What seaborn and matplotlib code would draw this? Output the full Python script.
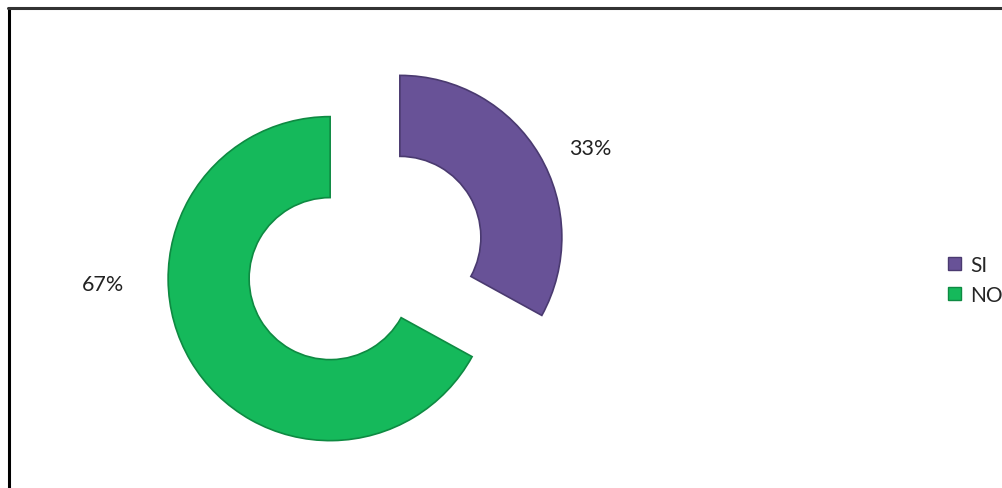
import matplotlib
matplotlib.use("Agg")
import matplotlib.pyplot as plt
import seaborn as sns
from matplotlib.lines import Line2D
from matplotlib.patches import Patch

categories = ["SI", "NO"]
values = [33, 67]
pct_labels = ["33%", "67%"]
colors = ["#685297", "#15B95B"]
edge_colors = ["#4A3A70", "#0E8A42"]

sns.set_theme(style="white")
plt.rcParams['font.family'] = ['Lato', 'DejaVu Sans']

W, H = 1002, 489
fig = plt.figure(figsize=(W / 100, H / 100), dpi=100)
fig.patch.set_facecolor("white")

R_px = 162
L = 1.7
size_px = 2 * L * R_px
cx, cy = 365, 259
ax = fig.add_axes([(cx - size_px / 2) / W, (H - cy - size_px / 2) / H, size_px / W, size_px / H])

wedges, _ = ax.pie(values, colors=colors, startangle=90, counterclock=False,
                   explode=[0.25, 0.25], radius=1.0,
                   wedgeprops=dict(width=0.5, linewidth=1.2))
for w, ec in zip(wedges, edge_colors):
    w.set_edgecolor(ec)
ax.set_xlim(-L, L)
ax.set_ylim(-L, L)
ax.set_aspect("equal")
ax.axis("off")

label_pos = [(1.39, 0.68), (-1.62, -0.16)]
for txt, (x, y) in zip(pct_labels, label_pos):
    ax.text(x, y, txt, ha="center", va="center", fontsize=15.5, color="#222222", clip_on=False)

handles = [Patch(facecolor=c, edgecolor=ec, label=n) for c, ec, n in zip(colors, edge_colors, categories)]
fig.legend(handles=handles, loc="center left", bbox_to_anchor=(938 / W, 1 - 281 / H),
           frameon=False, fontsize=15, handlelength=0.6, handleheight=0.6,
           handletextpad=0.45, labelspacing=0.5, borderpad=0)

fig.add_artist(Line2D([8.5 / W, 8.5 / W], [0, 1 - 9 / H], transform=fig.transFigure, color="black", lw=2.2))
fig.add_artist(Line2D([7.5 / W, 1], [1 - 9 / H, 1 - 9 / H], transform=fig.transFigure, color="#333333", lw=2.2))

fig.savefig("out.png", dpi=100)
